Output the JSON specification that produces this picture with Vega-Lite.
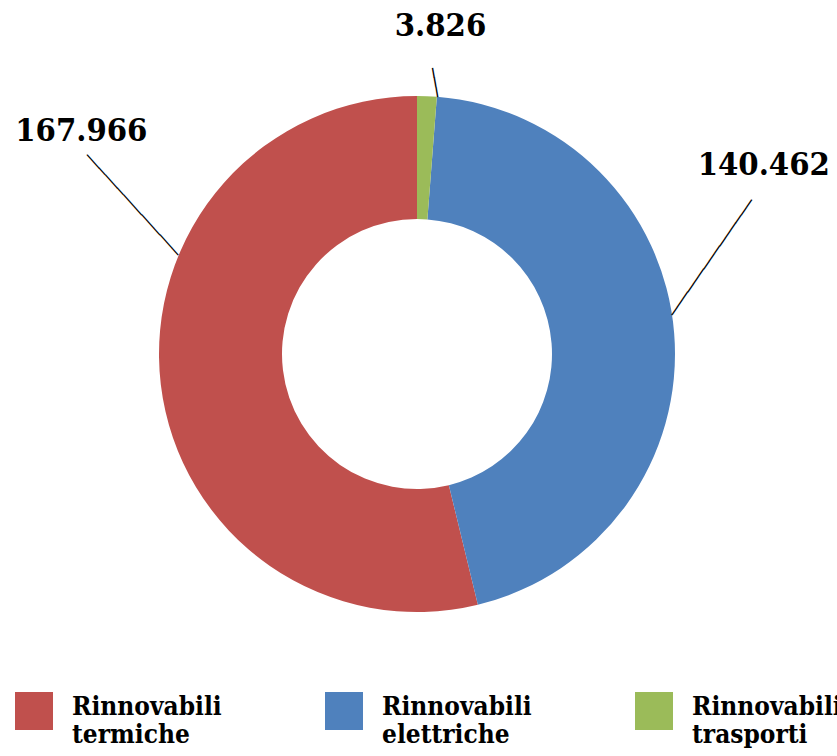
{
  "$schema": "https://vega.github.io/schema/vega-lite/v6.json",
  "width": 834,
  "height": 708,
  "autosize": "none",
  "padding": {"left": 0, "top": 0, "right": 3, "bottom": 48},
  "background": "white",
  "config": {"view": {"stroke": null}},
  "data": {
    "values": [
      {"cat": "Rinnovabili termiche", "value": 167.966, "label": "167.966"},
      {"cat": "Rinnovabili elettriche", "value": 140.462, "label": "140.462"},
      {"cat": "Rinnovabili trasporti", "value": 3.826, "label": "3.826"}
    ]
  },
  "transform": [
    {"stack": "value", "groupby": [], "sort": [{"field": "value", "order": "ascending"}], "as": ["v0", "v1"]}
  ],
  "layer": [
    {
      "mark": {"type": "arc", "outerRadius": 258, "innerRadius": 135},
      "encoding": {
        "theta": {"field": "v0", "type": "quantitative", "scale": {"domain": [0, 312.254]}},
        "theta2": {"field": "v1"},
        "color": {
          "field": "cat",
          "type": "nominal",
          "scale": {
            "domain": ["Rinnovabili termiche", "Rinnovabili elettriche", "Rinnovabili trasporti"],
            "range": ["#C0504D", "#4F81BD", "#9BBB59"]
          },
          "legend": {
            "title": null,
            "orient": "none",
            "legendX": 15,
            "legendY": 692,
            "direction": "horizontal",
            "columns": 3,
            "columnPadding": 103,
            "padding": 0,
            "symbolType": "square",
            "symbolSize": 1444,
            "symbolStrokeWidth": 0,
            "symbolOpacity": 1,
            "labelOffset": 19,
            "labelFont": "DejaVu Serif Condensed",
            "labelFontWeight": "bold",
            "labelFontSize": 26,
            "labelColor": "#000000",
            "labelLimit": 300,
            "labelExpr": "split(datum.label, ' ')",
            "labelBaseline": "alphabetic",
            "labelLineHeight": 30,
            "encode": {"labels": {"update": {"dy": {"value": 4}}}}
          }
        }
      }
    },
    {
      "transform": [{"filter": "datum.cat === 'Rinnovabili trasporti'"}],
      "mark": {"type": "text", "radius": 272, "thetaOffset": 0.0644, "angle": 80.2, "font": "DejaVu Sans Mono", "fontSize": 16.3, "align": "center", "baseline": "middle", "color": "#000000"},
      "encoding": {"theta": {"field": "v0", "type": "quantitative"}, "text": {"value": "───"}}
    },
    {
      "transform": [{"filter": "datum.cat === 'Rinnovabili elettriche'"}],
      "mark": {"type": "text", "radius": 310.4, "thetaOffset": 1.1779, "angle": -55.2, "font": "DejaVu Sans Mono", "fontSize": 15.5, "align": "center", "baseline": "middle", "color": "#000000"},
      "encoding": {"theta": {"field": "v0", "type": "quantitative"}, "text": {"value": "───────────────"}}
    },
    {
      "transform": [{"filter": "datum.cat === 'Rinnovabili termiche'"}],
      "mark": {"type": "text", "radius": 321.2, "thetaOffset": 2.2916, "angle": 47.7, "font": "DejaVu Sans Mono", "fontSize": 15, "align": "center", "baseline": "middle", "color": "#000000"},
      "encoding": {"theta": {"field": "v0", "type": "quantitative"}, "text": {"value": "───────────────"}}
    },
    {
      "transform": [{"filter": "datum.cat === 'Rinnovabili trasporti'"}],
      "mark": {"type": "text", "radius": 329, "thetaOffset": 0.0716, "font": "DejaVu Serif Condensed", "fontWeight": "bold", "fontSize": 32.5, "align": "center", "baseline": "middle", "color": "#000000"},
      "encoding": {"theta": {"field": "v0", "type": "quantitative"}, "text": {"field": "label"}}
    },
    {
      "transform": [{"filter": "datum.cat === 'Rinnovabili elettriche'"}],
      "mark": {"type": "text", "radius": 395, "thetaOffset": 0.9946, "font": "DejaVu Serif Condensed", "fontWeight": "bold", "fontSize": 32.5, "align": "center", "baseline": "middle", "color": "#000000"},
      "encoding": {"theta": {"field": "v0", "type": "quantitative"}, "text": {"field": "label"}}
    },
    {
      "transform": [{"filter": "datum.cat === 'Rinnovabili termiche'"}],
      "mark": {"type": "text", "radius": 403, "thetaOffset": 2.3954, "font": "DejaVu Serif Condensed", "fontWeight": "bold", "fontSize": 32.5, "align": "center", "baseline": "middle", "color": "#000000"},
      "encoding": {"theta": {"field": "v0", "type": "quantitative"}, "text": {"field": "label"}}
    }
  ]
}
